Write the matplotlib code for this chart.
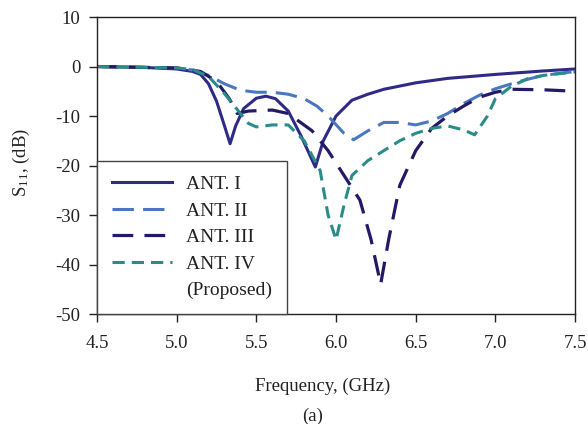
import matplotlib
matplotlib.use('Agg')
import matplotlib.pyplot as plt

plt.rcParams['font.family'] = ['Liberation Serif', 'DejaVu Serif']
plt.rcParams['mathtext.fontset'] = 'custom'
plt.rcParams['mathtext.rm'] = 'Liberation Serif'
plt.rcParams['mathtext.it'] = 'Liberation Serif:italic'
plt.rcParams['axes.unicode_minus'] = False

# ANT. I (solid)
f1 = [4.5, 4.8, 5.0, 5.1, 5.15, 5.2, 5.25, 5.3, 5.335, 5.37, 5.42, 5.5, 5.56, 5.62,
      5.7, 5.78, 5.87, 5.92, 6.0, 6.1, 6.2, 6.3, 6.5, 6.7, 7.0, 7.3, 7.5]
s1 = [0, -0.2, -0.5, -1.0, -1.6, -3.5, -7.0, -12.0, -15.6, -12.0, -8.5, -6.4, -6.0, -6.5,
      -9.0, -14.0, -20.3, -15.0, -10.0, -6.8, -5.6, -4.6, -3.3, -2.4, -1.6, -0.9, -0.5]

# ANT. II (long dash, medium blue)
f2 = [4.5, 5.0, 5.1, 5.2, 5.3, 5.4, 5.5, 5.6, 5.7, 5.8, 5.88, 5.95, 6.05, 6.11,
      6.2, 6.3, 6.4, 6.5, 6.6, 6.7, 6.8, 6.9, 7.0, 7.1, 7.2, 7.3, 7.5]
s2 = [0, -0.3, -0.7, -1.8, -3.5, -4.8, -5.2, -5.2, -5.6, -6.5, -8.0, -10.0, -13.5, -14.8,
      -13.0, -11.3, -11.3, -11.8, -11.0, -9.5, -7.5, -5.8, -4.5, -3.5, -2.6, -1.8, -1.0]

# ANT. III (long dash, dark navy)
f3 = [4.5, 5.0, 5.15, 5.25, 5.33, 5.38, 5.45, 5.6, 5.7, 5.85, 5.95, 6.05, 6.15,
      6.22, 6.28, 6.33, 6.4, 6.5, 6.6, 6.7, 6.8, 6.9, 7.0, 7.1, 7.3, 7.5]
s3 = [0, -0.3, -1.0, -3.0, -6.5, -9.5, -9.0, -8.8, -9.5, -13.0, -17.0, -22.0, -27.0,
      -35.0, -44.0, -35.0, -24.0, -17.0, -12.5, -10.0, -8.0, -6.2, -5.2, -4.6, -4.7, -5.0]

# ANT. IV (short dash, teal) - proposed
f4 = [4.5, 5.0, 5.1, 5.2, 5.3, 5.4, 5.45, 5.5, 5.6, 5.7, 5.8, 5.9, 5.95, 6.0, 6.05,
      6.1, 6.2, 6.3, 6.4, 6.5, 6.6, 6.7, 6.8, 6.87, 6.95, 7.0, 7.1, 7.2, 7.3, 7.5]
s4 = [0, -0.3, -0.6, -2.0, -5.5, -9.5, -11.5, -12.2, -11.8, -11.8, -15.0, -21.0, -30.0,
      -35.0, -28.0, -22.0, -19.0, -17.0, -15.0, -13.5, -12.5, -12.0, -12.8, -13.8, -10.0,
      -6.5, -4.0, -2.5, -1.8, -1.1]

xticks = [4.5, 5.0, 5.5, 6.0, 6.5, 7.0, 7.5]
yticks = [10, 0, -10, -20, -30, -40, -50]

fig = plt.figure(figsize=(5.88, 4.24), dpi=100)
ax = fig.add_axes([0.165, 0.2594, 0.813, 0.7005])

ax.plot(f1, s1, color='#2e2a85', lw=2.2, label='ANT. I')
ax.plot(f2, s2, color='#4a78c0', lw=2.2, dashes=(7, 3), label='ANT. II')
ax.plot(f3, s3, color='#221a66', lw=2.3, dashes=(6.5, 3.5), label='ANT. III')
ax.plot(f4, s4, color='#2a8c88', lw=2.2, dashes=(4, 2.3), label='ANT. IV')
# second legend line without a handle
ax.plot([], [], color='none', label='(Proposed)')

ax.set_xlim(4.5, 7.5)
ax.set_ylim(-50, 10)
ax.set_xticks(xticks)
ax.set_xticklabels([f'{t:.1f}' for t in xticks])
ax.set_yticks(yticks)
ax.set_yticklabels([str(t) for t in yticks])
ax.tick_params(direction='out', length=6, width=1, labelsize=13.5, colors='#222222')
ax.tick_params(axis='x', pad=9)
ax.tick_params(axis='y', pad=6)
for sp in ax.spines.values():
    sp.set_linewidth(1.0)
    sp.set_color('#222222')

fig.text(323 / 588, 1 - 386 / 424, 'Frequency, (GHz)', ha='center', va='center',
         fontsize=13.5, color='#222222')
fig.text(21 / 588, 1 - 162 / 424, r'S$_{11}$, (dB)', ha='center', va='center',
         rotation=90, fontsize=13.5, color='#222222')
fig.text(313 / 588, 1 - 416 / 424, '(a)', ha='center', va='center', fontsize=13.5,
         color='#222222')

leg = ax.legend(loc='lower left', bbox_to_anchor=(0, 0), borderaxespad=0,
                fontsize=14, fancybox=False, framealpha=1, edgecolor='#444444',
                handlelength=3.1, handletextpad=0.75, labelspacing=0.46,
                borderpad=0.75)
leg.get_frame().set_linewidth(1.0)
for t in leg.get_texts():
    t.set_color('#222222')

fig.savefig('out.png', dpi=100, facecolor='white')
